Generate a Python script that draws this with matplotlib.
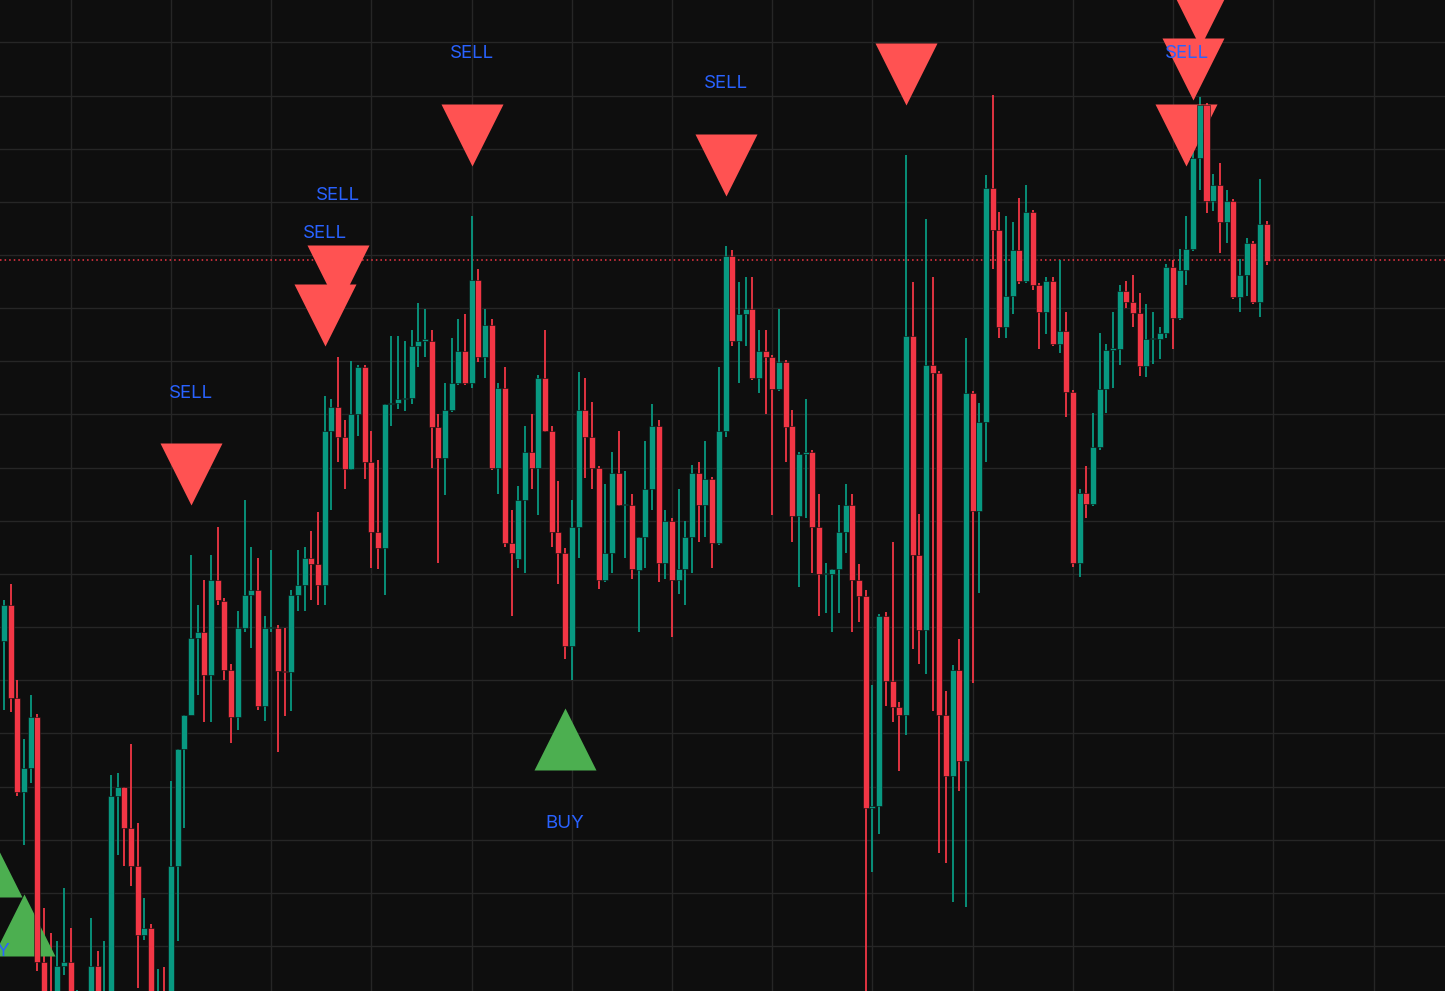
import numpy as np
import matplotlib
matplotlib.use("Agg")
import matplotlib.pyplot as plt

# OHLC (chart levels, larger = lower on screen)
opens = [641,605,698,792,768,717,962,995,1000,966,962,1010,1005,1000,966,1010,1000,796,787,828,
         866,935,928,1005,998,1000,866,749,715,638,632,675,580,601,670,717,628,595,590,706,
         628,628,671,672,595,585,558,564,585,431,407,437,469,414,367,462,532,548,404,403,
         399,398,346,341,341,427,458,410,383,351,383,280,357,325,468,388,543,559,500,452,
         468,378,431,532,553,646,527,410,437,468,580,553,473,505,505,570,537,489,426,563,
         521,580,569,537,473,505,479,543,431,256,341,314,309,378,351,357,389,362,426,516,
         454,452,527,574,574,569,532,505,580,596,808,806,616,681,707,715,336,555,630,365,
         373,715,776,670,761,393,511,422,188,230,327,296,250,281,212,285,312,281,344,331,
         392,563,493,504,447,389,350,349,291,302,313,366,339,339,333,267,318,270,249,158,
         105,201,185,222,201,297,275,243,302,224]
highs = [600,584,680,739,695,714,908,933,941,888,928,990,995,918,951,941,775,773,787,744,
         823,898,924,969,967,781,749,715,555,605,580,555,527,598,664,611,500,547,558,616,
         550,625,628,590,550,547,531,512,396,399,357,420,361,365,365,431,460,404,336,336,
         341,330,303,309,330,414,383,338,319,314,216,269,309,319,383,367,510,486,426,414,
         375,330,426,481,548,500,372,378,402,466,484,452,431,471,494,537,441,404,420,510,
         518,489,521,465,462,441,477,367,246,250,282,277,277,330,330,355,309,360,410,452,
         399,450,494,563,569,505,484,494,564,590,685,614,612,542,702,155,282,514,219,277,
         371,691,665,639,338,391,403,175,95,212,216,222,198,185,210,283,277,277,260,312,
         390,489,466,413,333,344,312,285,281,275,293,304,312,327,264,260,249,216,150,97,
         103,174,163,190,199,259,238,241,179,221]
lows = [710,712,796,845,783,971,1010,1020,1005,975,1010,1020,1020,1005,1010,1020,1005,855,866,886,
        988,940,1010,1015,1012,1005,941,828,715,695,722,722,605,680,743,730,632,648,710,721,
        632,752,716,711,611,611,600,605,605,510,462,489,470,436,479,568,569,595,426,409,
        411,404,367,357,468,563,495,412,385,385,388,362,378,470,494,547,616,568,573,489,
        515,432,547,584,659,680,558,478,489,589,582,573,506,558,579,632,568,510,582,579,
        637,594,605,573,542,537,568,545,437,346,383,346,380,393,414,515,391,462,542,587,
        518,573,616,613,632,613,553,632,622,1010,872,834,706,722,771,735,649,664,674,711,
        853,863,902,791,907,683,593,462,269,338,338,314,284,283,290,349,334,346,353,417,
        567,577,518,506,450,413,388,365,308,327,376,377,364,359,338,349,320,285,251,190,
        213,211,253,243,299,312,296,304,317,265]
closes = [605,698,792,768,717,962,1000,1010,966,962,1000,1000,1012,966,1000,995,796,787,828,866,
          935,928,1000,998,1003,866,749,715,638,632,675,580,600,670,717,628,595,590,706,628,
          627,671,672,595,585,558,564,585,431,407,437,469,414,367,462,532,548,404,403,399,
          398,346,341,340,427,458,410,383,351,383,280,357,325,468,388,543,553,500,452,468,
          378,431,532,553,646,527,410,437,468,580,553,473,505,504,569,537,489,426,563,521,
          580,569,537,473,505,479,543,431,256,341,314,309,378,351,357,389,362,427,516,454,
          452,527,574,573,569,532,505,580,596,808,806,616,681,707,715,336,555,630,365,373,
          715,776,670,761,393,511,422,188,230,327,296,250,281,212,285,312,281,344,331,392,
          563,493,504,447,389,350,349,291,302,313,366,339,338,333,267,318,270,249,158,105,
          201,185,222,201,297,275,243,302,224,261]

sell_idx = [28, 48, 50, 70, 108, 135, 177, 178, 179]
buy_idx = [-2, 3, 84]
buy_low_extra = {-2: 786}
last_price_level = 260

def to_price(v):
    return (991 - np.asarray(v, dtype=float)) / 10.0

O, H, L, C = map(to_price, (opens, highs, lows, closes))
x = np.arange(len(O))

BG = "#0e0e0e"
UP, DN = "#089981", "#f23645"
fig = plt.figure(figsize=(14.45, 9.91), dpi=100, facecolor=BG)
ax = fig.add_axes([0, 0, 1, 1], facecolor=BG)
ax.set_xlim(-0.6, 215.7)
ax.set_ylim(0, 99.1)
ax.set_yticks(np.arange(4.5, 99.1, 5.315))
ax.set_xticks(np.arange(10, 216, 15))
ax.grid(True, color="#262626", linewidth=1.0)
ax.tick_params(length=0, labelbottom=False, labelleft=False)
for s in ax.spines.values():
    s.set_visible(False)
ax.set_axisbelow(True)

cols = np.where(C >= O, UP, DN)
ax.vlines(x, L, H, colors=cols, linewidth=1.3, zorder=3)
bottom = np.minimum(O, C)
height = np.maximum(np.abs(C - O), 0.15)
ax.bar(x, height, bottom=bottom, width=0.9, color=cols, edgecolor=BG, linewidth=0.4, zorder=4)

ax.axhline(to_price(last_price_level), color=DN, linestyle=(0, (1, 2)), linewidth=1.1, zorder=2)

tri_s = (62 * 0.72) ** 2
sx = np.array(sell_idx)
sh = H[sx]
ax.scatter(sx, sh + 8.1, marker="v", s=tri_s, color="#ff5252", linewidths=0, zorder=3.5)
for xi, hi in zip(sx, sh):
    ax.text(xi, hi + 16.2, "SELL", color="#2962ff", ha="center", va="center",
            fontsize=13.5, family=["Inter", "DejaVu Sans"], zorder=6)

bx = np.array(buy_idx)
bl = np.array([to_price(buy_low_extra[i]) if i < 0 else L[i] for i in buy_idx])
ax.scatter(bx, bl - 8.0, marker="^", s=tri_s, color="#4caf50", linewidths=0, zorder=3.5, clip_on=False)
for xi, lo in zip(bx, bl):
    ax.text(xi, lo - 16.5, "BUY", color="#2962ff", ha="center", va="center",
            fontsize=13.5, family=["Inter", "DejaVu Sans"], zorder=6)

fig.savefig("out.png", dpi=100, facecolor=BG)
